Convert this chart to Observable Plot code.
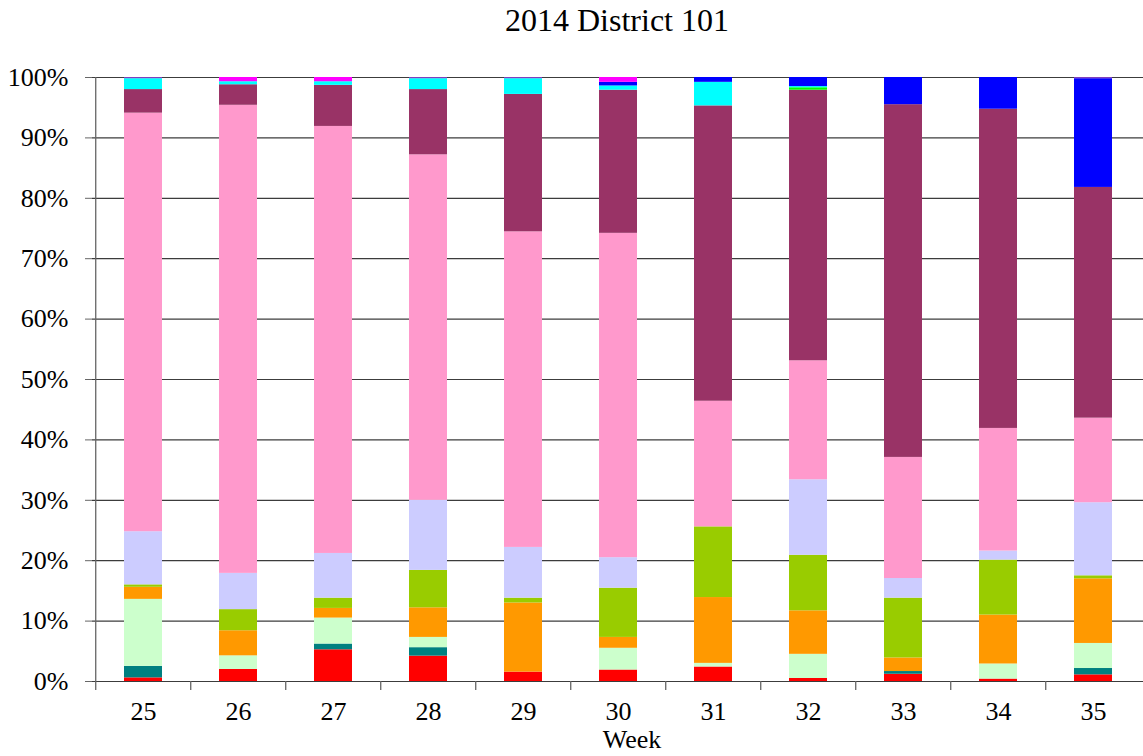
<!DOCTYPE html>
<html><head><meta charset="utf-8">
<script src="https://cdn.jsdelivr.net/npm/d3@7"></script>
<script src="https://cdn.jsdelivr.net/npm/@observablehq/plot@0.6"></script>
<style>
body{margin:0;background:#fff;font-family:"Liberation Serif","Times New Roman",serif;}
#wrap{position:relative;width:1143px;height:756px;overflow:hidden;}
#title{position:absolute;top:4px;left:617px;transform:translateX(-50%);font-size:32px;line-height:32px;white-space:nowrap;color:#000;}
#chart{position:absolute;top:60px;left:0;}
</style></head><body>
<div id="wrap"><div id="title">2014 District 101</div><div id="chart"></div></div>
<script>
const weeks = [25, 26, 27, 28, 29, 30, 31, 32, 33, 34, 35];
// series values (% of week), bottom to top
const red        = [0.6, 2.0, 5.25, 4.2, 1.55, 1.9, 2.4, 0.5, 1.2, 0.4, 1.1];
const teal       = [1.9, 0, 0.95, 1.4, 0, 0, 0, 0, 0.45, 0, 1.05];
const lightGreen = [11.1, 2.25, 4.3, 1.7, 0, 3.6, 0.6, 4.0, 0, 2.5, 4.15];
const orange     = [2.0, 4.15, 1.6, 4.9, 11.45, 1.8, 10.9, 7.2, 2.25, 8.1, 10.7];
const yellowGreen= [0.4, 3.5, 1.7, 6.2, 0.8, 8.15, 11.7, 9.2, 9.9, 9.1, 0.5];
const lavender   = [8.8, 6.0, 7.4, 11.6, 8.4, 5.05, 0, 12.5, 3.25, 1.5, 12.1];
const pink       = [69.3, 77.5, 70.7, 57.2, 52.25, 53.7, 20.8, 19.7, 20.05, 20.3, 14.0];
const maroon     = [3.9, 3.4, 6.8, 10.8, 22.75, 23.7, 48.9, 44.8, 58.4, 52.85, 38.2];
const green      = [0, 0, 0, 0, 0, 0, 0, 0.4, 0, 0, 0];
const cyan       = [1.8, 0.5, 0.6, 1.8, 2.6, 0.7, 3.9, 0.2, 0, 0, 0];
const blue       = [0, 0, 0, 0, 0, 0.6, 0.8, 1.5, 4.5, 5.25, 18.0];
const magenta    = [0, 0.7, 0.7, 0, 0, 0.8, 0, 0, 0, 0, 0];
const purple     = [0.2, 0, 0, 0.2, 0.2, 0, 0, 0, 0, 0, 0.2];

const seriesNames  = ["red","teal","lightGreen","orange","yellowGreen","lavender","pink","maroon","green","cyan","blue","magenta","purple"];
const seriesColors = ["#FF0000","#008080","#CCFFCC","#FF9900","#99CC00","#CCCCFF","#FF99CC","#993366","#00FF00","#00FFFF","#0000FF","#FF00FF","#7F3FBF"];
const seriesValues = [red, teal, lightGreen, orange, yellowGreen, lavender, pink, maroon, green, cyan, blue, magenta, purple];
const yTicks = [0, 10, 20, 30, 40, 50, 60, 70, 80, 90, 100];
const xLabel = "Week";

const data = weeks.flatMap((w, i) => seriesNames.map((s, j) => ({week: String(w), series: s, value: seriesValues[j][i]})));

const W = 1143, H = 696, mL = 92, mR = 0, mT = 17, mB = 75;
const bw = (W - mL - mR) / weeks.length;
const weekStr = weeks.map(String);

const chart = Plot.plot({
  width: W, height: H,
  marginLeft: mL, marginRight: mR, marginTop: mT, marginBottom: mB,
  style: {fontFamily: "'Liberation Serif', 'Times New Roman', serif", fontSize: "26px", color: "#000", background: "#fff", overflow: "visible"},
  x: {domain: weekStr, paddingInner: 0.6, paddingOuter: 0.3, label: null},
  y: {domain: [0, 100], label: null},
  color: {domain: seriesNames, range: seriesColors},
  marks: [
    Plot.ruleY(yTicks, {stroke: "#3c3c3c", strokeWidth: 1.2}),
    Plot.barY(data, {x: "week", y: "value", fill: "series"}),
    Plot.ruleX(weekStr, {x: d => d, y1: -1.5, y2: d => d === weekStr[0] ? 100 : 0, dx: -bw / 2, stroke: "#666", strokeWidth: 1.3}),
    Plot.axisY(yTicks, {tickFormat: d => d + "%", tickSize: 7, tickPadding: 17, stroke: "#666", label: null, fontSize: 26}),
    Plot.axisX({tickSize: 0, tickPadding: 20.5, label: null, fontSize: 26}),
    Plot.text([xLabel], {text: d => d, frameAnchor: "bottom", dy: 66, dx: 14, fontSize: 26, fill: "#000"})
  ]
});
document.getElementById("chart").appendChild(chart);
</script>
</body></html>
